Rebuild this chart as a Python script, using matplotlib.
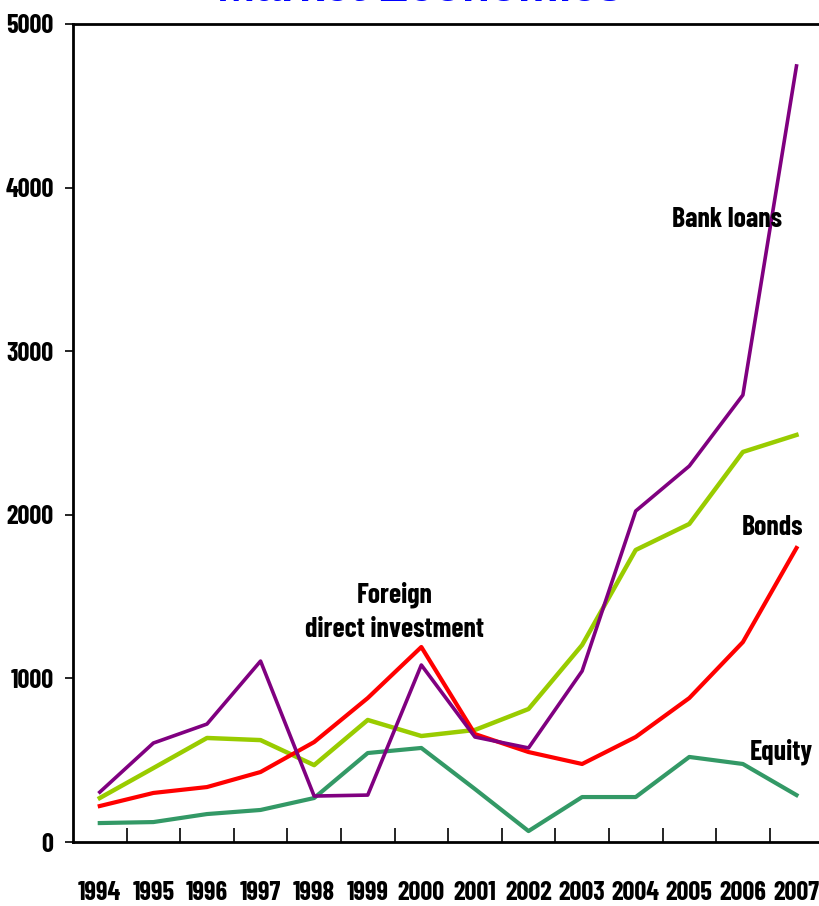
import matplotlib.pyplot as plt
from matplotlib.ticker import FixedLocator

plt.rcParams['font.family'] = ['Barlow Condensed', 'DejaVu Sans']

years = [str(y) for y in range(1994, 2008)]
bank_loans = [305, 605, 721, 1106, 281, 287, 1082, 642, 575, 1045, 2023, 2298, 2732, 4743]
fdi = [269, 452, 636, 623, 470, 746, 648, 685, 813, 1204, 1785, 1944, 2384, 2488]
bonds = [220, 300, 336, 428, 611, 880, 1192, 660, 550, 477, 642, 880, 1222, 1797]
equity = [116, 122, 171, 196, 269, 544, 575, 324, 67, 275, 275, 520, 477, 287]

fig = plt.figure(figsize=(8.2, 9.06), dpi=100)
ax = fig.add_axes([0.089, 0.0706, 0.915, 0.903])

x = list(range(len(years)))
ax.plot(x, fdi, color="#99CC00", linewidth=3.2)
ax.plot(x, bonds, color="#FF0000", linewidth=3)
ax.plot(x, equity, color="#339966", linewidth=3)
ax.plot(x, bank_loans, color="#800080", linewidth=2.6)

ax.set_xlim(-0.5, 13.5)
ax.set_ylim(0, 5000)
ax.set_yticks(range(0, 5001, 1000))
ax.set_xticks(x)
ax.set_xticklabels(years)
ax.xaxis.set_minor_locator(FixedLocator([i + 0.5 for i in range(13)]))

for lab in ax.get_xticklabels() + ax.get_yticklabels():
    lab.set_fontweight("bold")
    lab.set_fontsize(19)
ax.tick_params(axis="x", which="major", length=0, pad=28)
ax.tick_params(axis="x", which="minor", direction="in", length=10, width=1.2)
ax.tick_params(axis="y", direction="out", length=6, width=1.2, pad=8)

for side in ["left", "bottom", "top"]:
    ax.spines[side].set_linewidth(2)
ax.spines["right"].set_visible(False)

# series labels
lab_kw = dict(fontsize=20, fontweight="bold", ha="center", va="center")
ax.text(11.7, 3805, "Bank loans", **lab_kw)
ax.text(12.55, 1925, "Bonds", **lab_kw)
ax.text(5.5, 1410, "Foreign\ndirect investment", linespacing=1.45, **lab_kw)
ax.text(12.72, 550, "Equity", **lab_kw)

# title sits mostly above the top edge of the figure
fig.text(0.512, 0.9992, "Market Economies", color="#0000FF", fontsize=33,
         fontweight="bold", ha="center", va="baseline", family="Liberation Sans")

fig.savefig("out.png", dpi=100)
